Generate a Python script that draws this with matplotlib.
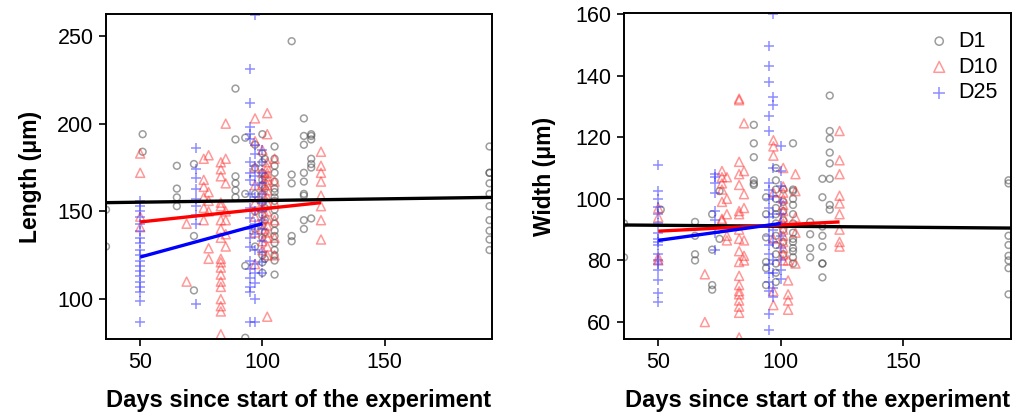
import matplotlib
matplotlib.use("Agg")
import matplotlib.pyplot as plt
import numpy as np

plt.rcParams['font.family'] = ['Liberation Sans', 'DejaVu Sans']

# ---------------- data: Length panel ----------------
len_d1 = {
    36: [151, 130],
    51: [194, 184],
    65: [176, 163, 158, 153],
    72: [177, 136, 105],
    89: [220, 191, 170, 166, 162, 158],
    93: [192, 160, 119, 78],
    97: [188, 175, 160, 150, 140, 130],
    100: [194, 183, 178, 172, 168, 165, 160, 155, 148, 142, 135, 125, 121, 115],
    101: [180, 170, 163, 152, 145, 138, 123],
    105: [187, 180, 176, 172, 167, 163, 161, 158, 156, 151, 147, 143, 139, 136, 132, 128, 125, 122, 114],
    112: [247, 171, 166, 136, 133],
    117: [203, 193, 188, 172, 167, 160, 159, 145, 140],
    120: [194, 193, 191, 180, 177, 175, 146],
    193: [187, 172, 172, 166, 160, 153, 145, 139, 134, 128],
}
len_d10 = {
    50: [183, 172, 147, 141],
    69: [143, 110],
    76: [180, 168, 164, 158, 152, 145],
    78: [182, 161, 156, 150, 129, 123],
    83: [178, 174, 170, 155, 153, 145, 140, 135, 123, 121, 118, 114, 110, 107, 100, 96, 93, 80],
    85: [200, 180, 166, 150, 145, 137, 130],
    97: [203, 190, 175, 165, 155, 147, 138, 120],
    100: [185, 172, 165, 160, 152, 145, 140, 133, 128],
    102: [206, 194, 178, 175, 172, 170, 168, 165, 162, 158, 155, 150, 146, 142, 138, 135, 130, 125, 90],
    105: [180, 167, 155, 145, 135, 125],
    124: [184, 176, 172, 167, 159, 153, 145, 134],
}
len_d25 = {
    50: [156, 153, 150, 147, 143, 139, 135, 132, 128, 125, 122, 119, 116, 113, 110, 107, 104, 99, 87],
    73: [186, 174, 169, 163, 157, 153, 148, 143, 97],
    95: [231, 212, 198, 194, 191, 178, 172, 168, 160, 152, 146, 140, 135, 130, 122, 117, 112, 107, 104, 87],
    97: [262, 188, 183, 176, 170, 165, 158, 150, 143, 137, 128, 120, 115, 109, 100, 87],
    100: [185, 178, 172, 166, 160, 155, 150, 145, 140, 133, 127, 121, 115],
}

# ---------------- data: Width panel ----------------
wid_d1 = {
    36: [92, 81],
    51: [96.5],
    65: [92.5, 88, 82, 80],
    72: [95, 83.5, 72, 70.5],
    75: [102.5, 87],
    89: [124, 118, 113.5, 106, 105, 104.5],
    94: [100.5, 95, 87.5, 79.5, 77.5, 72],
    98: [110, 106, 103, 100, 97, 95, 92, 88, 85, 82, 79, 76, 73],
    101: [103, 99, 96, 93, 90, 86, 82],
    105: [118, 103, 102.5, 100, 98, 95, 92, 89, 87, 86, 84, 83, 81, 79],
    112: [92.5, 88.5, 84, 81],
    117: [106.5, 100.5, 91, 88, 84.5, 79, 79, 74.5],
    120: [133.5, 122, 119.5, 115, 111.5, 106.5, 98, 96.5],
    193: [106, 105, 88, 85, 81.5, 80, 77.5, 69],
}
wid_d10 = {
    50: [97, 94, 81, 80],
    69: [75.5, 60],
    76: [109, 107, 105, 103, 99, 93.5, 93],
    78: [107, 100, 95, 88, 86.5],
    83: [132.5, 132, 112, 108, 104.5, 96, 95, 90, 87, 83, 79.5, 75, 72, 70, 69, 67, 65, 63, 55],
    85: [124.5, 109, 101.5, 97, 86.5, 81.5, 80],
    97: [119, 117, 114, 102, 87, 70, 65.5],
    101: [110, 104, 102, 100, 98, 96, 94, 92, 90, 88, 86, 84, 82, 80],
    103: [80, 73.5, 69, 67, 64],
    106: [108, 102.5, 94, 89, 79],
    124: [122, 112.5, 108, 101, 98.5, 95, 90, 86, 84.5],
}
wid_d25 = {
    50: [111, 102.5, 100, 97.5, 95, 92, 89, 87, 86, 85, 82, 80, 79, 77, 73.5, 69.5, 66.5],
    73: [108, 107, 105, 102, 96, 93, 89, 83.5],
    95: [149.5, 143, 138, 127, 122, 105, 103, 100, 97, 94, 91, 88, 85, 82, 79, 76, 73, 70, 62.5, 57.5],
    97: [160, 133, 130.5, 110, 101, 95, 90, 86, 80, 76, 71, 68],
    100: [117, 109, 104, 99, 95, 92, 88, 84, 80, 77, 74],
}

# fitted lines (endpoints: day, value)
len_fit_all = ([36, 194], [155, 158])
len_fit_d10 = ([50, 124], [144, 155])
len_fit_d25 = ([50, 100], [124, 143])
wid_fit_all = ([36, 194], [91.5, 90.5])
wid_fit_d10 = ([50, 124], [89.5, 92.5])
wid_fit_d25 = ([50, 100], [86.5, 92])

groups = ["D1", "D10", "D25"]


def flat(d):
    xs, ys = [], []
    for k, v in d.items():
        xs += [k] * len(v)
        ys += v
    return np.array(xs), np.array(ys)


W, H = 1018, 416
fig = plt.figure(figsize=(W / 100, H / 100), dpi=100)
ax1 = fig.add_axes([106 / W, 1 - 339 / H, (492 - 106) / W, (339 - 14) / H])
ax2 = fig.add_axes([624 / W, 1 - 339 / H, (1011 - 624) / W, (339 - 13) / H])


def draw(ax, d1, d10, d25, fits, ylim, yticks, ylabel, ylabelpad):
    x, y = flat(d1)
    ax.scatter(x, y, s=24, facecolors='none', edgecolors=(0.3, 0.3, 0.3, 0.55), linewidths=1.1, marker='o', label=groups[0])
    x, y = flat(d10)
    ax.scatter(x, y, s=42, facecolors='none', edgecolors=(1, 0.2, 0.2, 0.5), linewidths=1.1, marker='^', label=groups[1])
    x, y = flat(d25)
    ax.scatter(x, y, s=52, c=[(0.2, 0.2, 1, 0.55)], linewidths=1.1, marker='+', label=groups[2])
    fa, f10, f25 = fits
    ax.plot(*fa, color='black', lw=2.4, solid_capstyle='butt')
    ax.plot(*f10, color='red', lw=2.4, solid_capstyle='butt')
    ax.plot(*f25, color='blue', lw=2.4, solid_capstyle='butt')
    ax.set_xlim(36, 194)
    ax.set_ylim(*ylim)
    ax.set_xticks([50, 100, 150])
    ax.set_yticks(yticks)
    ax.tick_params(axis='both', labelsize=15.5, length=5, width=1.2, direction='out', pad=4)
    for s in ax.spines.values():
        s.set_linewidth(1.4)
    ax.set_xlabel("Days since start of the experiment", fontsize=17, fontweight='bold', labelpad=12)
    ax.set_ylabel(ylabel, fontsize=16.5, fontweight='bold', labelpad=ylabelpad)


draw(ax1, len_d1, len_d10, len_d25, (len_fit_all, len_fit_d10, len_fit_d25),
     (77.3, 262.5), [100, 150, 200, 250], "Length (μm)", 11)
draw(ax2, wid_d1, wid_d10, wid_d25, (wid_fit_all, wid_fit_d10, wid_fit_d25),
     (54.5, 160.3), [60, 80, 100, 120, 140, 160], "Width (μm)", 14)

leg = ax2.legend(loc='upper right', bbox_to_anchor=(1.0, 0.985), frameon=False, fontsize=15.5,
                 handletextpad=0.3, borderaxespad=0.2, labelspacing=0.22, markerscale=1.2,
                 handlelength=1.2)

fig.savefig("out.png", dpi=100)
